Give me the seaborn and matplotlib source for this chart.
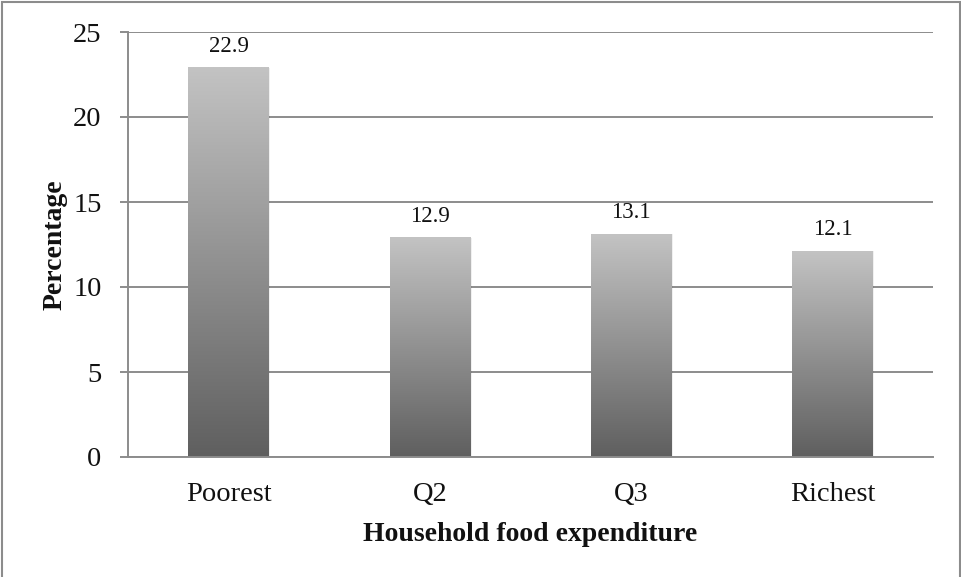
import numpy as np
import pandas as pd
import seaborn as sns
import matplotlib
matplotlib.use("Agg")
import matplotlib.pyplot as plt
from matplotlib.colors import LinearSegmentedColormap
from matplotlib.patches import Rectangle

categories = ["Poorest", "Q2", "Q3", "Richest"]
values = [22.9, 12.9, 13.1, 12.1]
value_labels = ["22.9", "12.9", "13.1", "12.1"]
yticks = [0, 5, 10, 15, 20, 25]
x_title = "Household food expenditure"
y_title = "Percentage"

sns.set_theme(style="white")
plt.rcParams['font.family'] = ['Liberation Serif', 'DejaVu Serif']

W, H = 962, 577
fig = plt.figure(figsize=(W / 100, H / 100), dpi=100)
ax = fig.add_axes([128 / W, 1 - 457 / H, (933 - 128) / W, (457 - 32) / H])

df = pd.DataFrame({"cat": categories, "val": values})
sns.barplot(data=df, x="cat", y="val", ax=ax, width=0.40, color="gray", zorder=2)

cmap = LinearSegmentedColormap.from_list("g", ["#5f5f5f", "#c3c3c3"])
grad = np.linspace(0, 1, 256).reshape(-1, 1)
for p, lab in zip(ax.patches, value_labels):
    x0, y0 = p.get_x(), p.get_y()
    w, h = p.get_width(), p.get_height()
    ax.add_patch(Rectangle((x0 + 0.008, y0), w, h, facecolor="#000000", alpha=0.06,
                           edgecolor="none", zorder=1.9))
    ax.imshow(grad, extent=[x0, x0 + w, y0, y0 + h], origin="lower", cmap=cmap,
              aspect="auto", zorder=2.1, interpolation="bilinear")
    p.set_visible(False)
    ax.annotate(lab, (x0 + w / 2, y0 + h), xytext=(0, 11.5), textcoords="offset points",
                ha="center", va="baseline", fontsize=16.5, color="#111111")

ax.set_xlim(-0.5, len(categories) - 0.5)
ax.set_ylim(0, 25)
ax.set_yticks(yticks)
ax.set_yticklabels([str(t) for t in yticks])

ax.set_axisbelow(True)
ax.yaxis.grid(True, color="#8c8c8c", linewidth=1.4)
ax.xaxis.grid(False)
for s in ["top", "right"]:
    ax.spines[s].set_visible(False)
for s in ["left", "bottom"]:
    ax.spines[s].set_color("#8c8c8c")
    ax.spines[s].set_linewidth(1.4)

ax.tick_params(axis="y", left=True, length=6, width=1.4, color="#8c8c8c",
               labelsize=20.5, pad=13, labelcolor="#111111")
ax.tick_params(axis="x", bottom=False, labelsize=20.5, pad=12, labelcolor="#111111")

ax.set_xlabel(x_title, fontsize=20, fontweight="bold", color="#111111", labelpad=11)
ax.set_ylabel(y_title, fontsize=20, fontweight="bold", color="#111111", labelpad=4)

fig.patches.append(Rectangle((2 / W, -0.02), (960 - 2) / W, 1 - 2 / H + 0.02,
                             transform=fig.transFigure, fill=False,
                             edgecolor="#8c8c8c", linewidth=1.5))

fig.savefig("out.png", dpi=100)
